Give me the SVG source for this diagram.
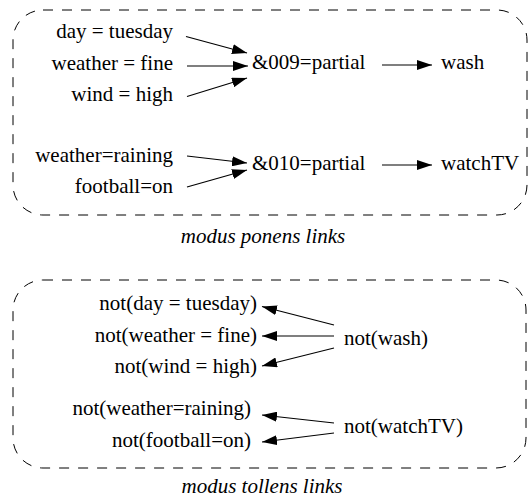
<svg xmlns="http://www.w3.org/2000/svg" width="528" height="500" viewBox="0 0 528 500">
<defs>
<marker id="ah" markerUnits="userSpaceOnUse" markerWidth="15" markerHeight="10" refX="15" refY="5" orient="auto">
<path d="M0,0 L15,5 L0,10 z" fill="#000"/>
</marker>
<style>
.r{text-anchor:end}
.cap{font-style:italic;text-anchor:middle}
.box{fill:none;stroke:#000;stroke-width:1;stroke-dasharray:10,9}
.e{stroke:#000;stroke-width:1.2;fill:none;marker-end:url(#ah)}
</style>
</defs>
<rect width="528" height="500" fill="#fff"/>
<g id="box-ponens"><rect class="box" x="13" y="10" width="514" height="205" rx="30" ry="30"/></g>
<g id="box-tollens"><rect class="box" x="13" y="280" width="513" height="188" rx="30" ry="30"/></g>

<g font-family="'Liberation Serif', 'Times New Roman', serif" font-size="21" fill="#000">
<g id="n-day"><text class="r" x="173" y="38">day = tuesday</text></g>
<g id="n-weather"><text class="r" x="173" y="70">weather = fine</text></g>
<g id="n-wind"><text class="r" x="173" y="101">wind = high</text></g>
<g id="n-and009"><text x="252" y="69">&amp;009=partial</text></g>
<g id="n-wash"><text x="441" y="69">wash</text></g>
<g id="n-raining"><text class="r" x="173" y="162">weather=raining</text></g>
<g id="n-football"><text class="r" x="173" y="193">football=on</text></g>
<g id="n-and010"><text x="252" y="170">&amp;010=partial</text></g>
<g id="n-watchtv"><text x="441" y="170">watchTV</text></g>
<g id="cap-ponens"><text class="cap" x="263" y="243">modus ponens links</text></g>

<g id="n-notday"><text class="r" x="257" y="310">not(day = tuesday)</text></g>
<g id="n-notweather"><text class="r" x="257" y="342">not(weather = fine)</text></g>
<g id="n-notwind"><text class="r" x="257" y="373">not(wind = high)</text></g>
<g id="n-notraining"><text class="r" x="251" y="415">not(weather=raining)</text></g>
<g id="n-notfootball"><text class="r" x="251" y="447">not(football=on)</text></g>
<g id="n-notwash"><text x="344" y="345">not(wash)</text></g>
<g id="n-notwatchtv"><text x="344" y="433">not(watchTV)</text></g>
<g id="cap-tollens"><text class="cap" x="262" y="493">modus tollens links</text></g>
</g>

<g id="connectors">
<line class="e" x1="186" y1="36.5" x2="247" y2="53"/>
<line class="e" x1="187" y1="66" x2="248" y2="66"/>
<line class="e" x1="187" y1="96.5" x2="247" y2="78"/>
<line class="e" x1="382" y1="65" x2="432" y2="65"/>
<line class="e" x1="187" y1="156" x2="247" y2="163"/>
<line class="e" x1="187" y1="187" x2="247" y2="170"/>
<line class="e" x1="382" y1="165" x2="432" y2="165"/>
<line class="e" x1="334" y1="325" x2="262" y2="306.5"/>
<line class="e" x1="334" y1="336" x2="262" y2="336"/>
<line class="e" x1="334" y1="348" x2="262" y2="366"/>
<line class="e" x1="334" y1="423" x2="262" y2="415"/>
<line class="e" x1="334" y1="433" x2="262" y2="442"/>
</g>
</svg>
